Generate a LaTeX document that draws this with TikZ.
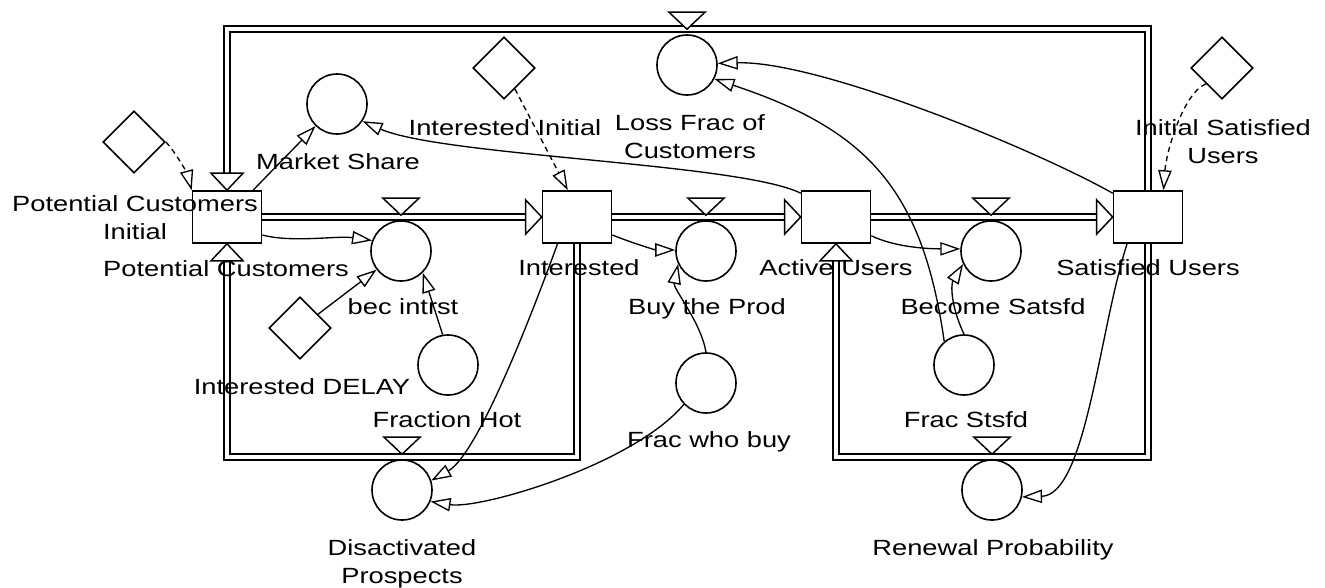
\documentclass[tikz,border=0pt]{standalone}
\usepackage{fontspec}
\newfontfamily\simfont[FakeStretch=1.24]{Liberation Sans}
\usepackage{tikz}
\usetikzlibrary{shapes.geometric, arrows.meta, calc}
\tikzset{
  stock/.style={rectangle, draw=black, line width=1.2pt, fill=white,
                minimum width=51.75pt, minimum height=39pt, inner sep=0pt},
  aux/.style={circle, draw=black, line width=1.2pt, fill=white,
              minimum size=45pt, inner sep=0pt},
  cnst/.style={diamond, aspect=1, draw=black, line width=1.2pt, fill=white,
               minimum width=46.5pt, minimum height=46.5pt, inner sep=0pt},
  pipe/.style={draw=black, double=white, double distance=3.4pt,
               line width=1.2pt},
  phead/.style={draw=black, line width=1.1pt, fill=white},
  link/.style={-{Triangle[open, length=15pt, width=10pt]}, line width=1pt},
  dlink/.style={link, dash pattern=on 4pt off 3pt},
  lbl/.style={font=\simfont\fontsize{16.5pt}{21pt}\selectfont,
              align=center, inner sep=0pt},
}
\begin{document}
\begin{tikzpicture}[x=0.75pt, y=-0.75pt]
  \useasboundingbox (0,0) rectangle (1325,587);

  % stocks
  \node[stock] (pc)  at (227,217)  {};
  \node[stock] (int) at (577,217)  {};
  \node[stock] (act) at (836,217)  {};
  \node[stock] (sat) at (1148,217) {};
  % rates
  \node[aux] (bi) at (401,251) {};
  \node[aux] (bp) at (706,251) {};
  \node[aux] (bs) at (991,251) {};
  \node[aux] (lf) at (687,65)  {};
  \node[aux] (dp) at (402,490) {};
  \node[aux] (rp) at (992,490) {};
  % auxiliaries
  \node[aux] (ms)  at (337,104) {};
  \node[aux] (fh)  at (448,365) {};
  \node[aux] (fwb) at (706,383) {};
  \node[aux] (fs)  at (964,365) {};
  % constants
  \node[cnst] (pci) at (134,142)  {};
  \node[cnst] (id)  at (300,328)  {};
  \node[cnst] (ii)  at (504,68)   {};
  \node[cnst] (isu) at (1222,68)  {};

  % flows
  \draw[pipe] (pc.east)  -- ($(int.west)+(-16,0)$);
  \draw[pipe] (int.east) -- ($(act.west)+(-16,0)$);
  \draw[pipe] (act.east) -- ($(sat.west)+(-16,0)$);
  \draw[pipe] (sat.north) -- ++(0,-161) -| ($(pc.north)+(0,-17)$);
  \draw[pipe] (int.south) -- ++(0,213) -| ($(pc.south)+(0,17)$);
  \draw[pipe] (sat.south) -- ++(0,213) -| ($(act.south)+(0,17)$);

  \draw[phead] (int.west) -- ++(-16,-17) -- ++(0,34) -- cycle;
  \draw[phead] (act.west) -- ++(-16,-17) -- ++(0,34) -- cycle;
  \draw[phead] (sat.west) -- ++(-16,-17) -- ++(0,34) -- cycle;
  \draw[phead] (pc.north) -- ++(-16,-17) -- ++(32,0) -- cycle;
  \draw[phead] (pc.south) -- ++(-16,17) -- ++(32,0) -- cycle;
  \draw[phead] (act.south) -- ++(-16,17) -- ++(32,0) -- cycle;

  % valves
  \draw[phead] ($(bi.north)+(0,-5)$) -- ++(-18,-17) -- ++(36,0) -- cycle;
  \draw[phead] ($(bp.north)+(0,-5)$) -- ++(-18,-17) -- ++(36,0) -- cycle;
  \draw[phead] ($(bs.north)+(0,-5)$) -- ++(-18,-17) -- ++(36,0) -- cycle;
  \draw[phead] ($(lf.north)+(0,-5)$) -- ++(-18,-17) -- ++(36,0) -- cycle;
  \draw[phead] ($(dp.north)+(0,-5)$) -- ++(-18,-17) -- ++(36,0) -- cycle;
  \draw[phead] ($(rp.north)+(0,-5)$) -- ++(-18,-17) -- ++(36,0) -- cycle;

  % labels
  \node[lbl] (pci-l) at (135,218)  {Potential Customers\\Initial};
  \node[lbl] (pc-l)  at (226,269)  {Potential Customers};
  \node[lbl] (ms-l)  at (338,162)  {Market Share};
  \node[lbl] (bi-l)  at (403,307)  {bec intrst};
  \node[lbl] (id-l)  at (302,387)  {Interested DELAY};
  \node[lbl] (fh-l)  at (447,420)  {Fraction Hot};
  \node[lbl] (ii-l)  at (505,128)  {Interested Initial};
  \node[lbl] (int-l) at (579,268)  {Interested};
  \node[lbl] (bp-l)  at (707,309)  {Buy the Prod};
  \node[lbl] (fwb-l) at (709,442)  {Frac who buy};
  \node[lbl] (dp-l)  at (402,564)  {Disactivated\\Prospects};
  \node[lbl] (act-l) at (836,268)  {Active Users};
  \node[lbl] (lf-l)  at (690,137)  {Loss Frac of\\Customers};
  \node[lbl] (bs-l)  at (993,307)  {Become Satsfd};
  \node[lbl] (fs-l)  at (966,420)  {Frac Stsfd};
  \node[lbl] (sat-l) at (1148,268) {Satisfied Users};
  \node[lbl] (isu-l) at (1223,142) {Initial Satisfied\\Users};
  \node[lbl] (rp-l)  at (993,550)  {Renewal Probability};

  % links
  \draw[dlink] (pci.east) .. controls +(10,10) and +(-4,-15) .. (pc.north west);
  \draw[link] (pc) -- (ms);
  \draw[link] (pc.-27) .. controls +(30,8) and +(-35,-5) .. (bi.160);
  \draw[link] (id) -- (bi);
  \draw[link] (fh.100) -- (bi.-45);
  \draw[dlink] (ii) -- (int.109);
  \draw[link] (int.-27) .. controls +(20,8) and +(-20,0) .. (bp.178);
  \draw[link] (fwb.north) .. controls +(-5,-30) and +(-5,25) .. (bp.205);
  \draw[link] (int.234) .. controls +(-28,77) and +(46,-26) .. (dp.18);
  \draw[link] (fwb.224) .. controls +(-50,60) and +(50,8) .. (dp.-22);
  \draw[link] (act.146) .. controls +(-60,-30) and +(80,35) .. (ms.-34);
  \draw[link] (sat.146) .. controls +(-80,-45) and +(100,-3) .. (lf.3);
  \draw[link] (fs.130) .. controls +(-22,-155) and +(150,50) .. (lf.-27);
  \draw[link] (fs.north) .. controls +(-14,-30) and +(-12,20) .. (bs.205);
  \draw[link] (act.-28) .. controls +(25,12) and +(-30,0) .. (bs.176);
  \draw[dlink] (isu.south west) .. controls +(-22,8) and +(3,-40) .. (sat.60);
  \draw[link] (sat.232) .. controls +(-28,87) and +(64,-2) .. (rp.-13);
\end{tikzpicture}
\end{document}
